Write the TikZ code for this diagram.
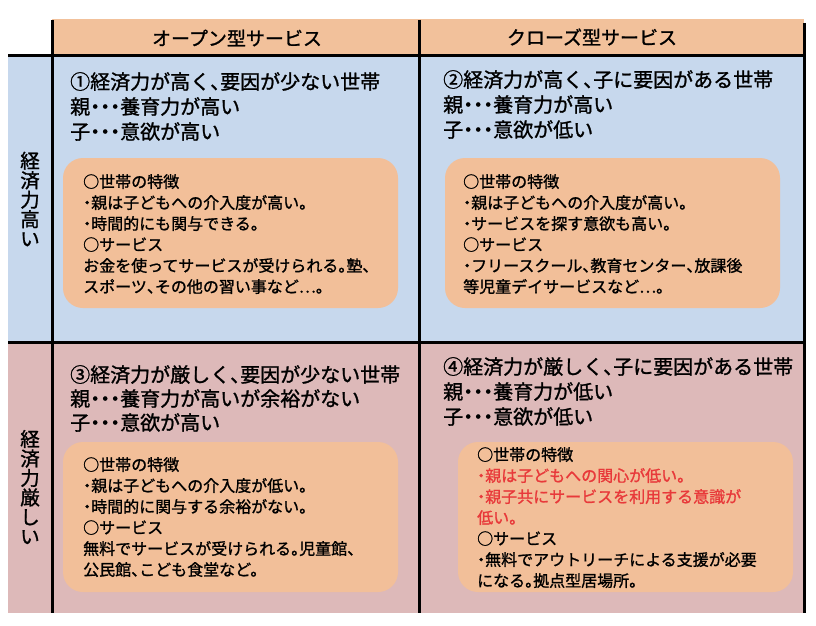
\documentclass[tikz,border=0pt]{standalone}
\usepackage{fontspec}
\setmainfont{Noto Sans CJK JP}[UprightFeatures={FakeBold=1.2}]
\definecolor{headorange}{HTML}{F2C19B}
\definecolor{highblue}{HTML}{C7D8ED}
\definecolor{lowpink}{HTML}{DDB9B9}
\definecolor{boxorange}{HTML}{F2BF99}
\definecolor{alertred}{HTML}{E8393A}
% narrow punctuation
\newcommand\nd{\makebox[0.5em]{・}}
\newcommand\nc{\makebox[0.5em][l]{、}}
\newcommand\np{\makebox[0.5em][l]{。}}
\begin{document}
\begin{tikzpicture}[x=1pt,y=-1pt,
		cellline/.style={line width=3pt},
		infobox/.style={fill=boxorange, rounded corners=20pt},
		headtext/.style={inner sep=0pt, font=\fontsize{19}{20}\selectfont},
		sidetext/.style={inner sep=0pt, align=center, font=\fontsize{19.5}{19.5}\selectfont},
		titletext/.style={anchor=north west, align=left, inner sep=0pt, font=\fontsize{20}{25}\selectfont},
		infotext/.style={anchor=north west, align=left, inner sep=0pt, font=\fontsize{16}{21}\selectfont}]
		% Set the grid lines of the table
		\def\xl{8}
		\def\xa{52}
		\def\xm{419}
		\def\xr{804}
		\def\yt{20}
		\def\yh{56}
		\def\ym{342}
		\def\yb{613}
		
		\useasboundingbox (0,0) rectangle (816,626);
		
		% Cell backgrounds
		\fill[headorange] (\xa,19) rectangle (\xr,\yh);
		\fill[highblue] (\xl,\yh) rectangle (\xr,\ym);
		\fill[lowpink] (\xl,\ym) rectangle (\xr,\yb);
		
		% Black grid lines
		\draw[cellline] (\xl,\yh) -- (\xr+1.5,\yh);
		\draw[cellline] (\xl,\ym) -- (\xr+1.5,\ym);
		\draw[cellline] (\xa,\yt) -- (\xa,\yb);
		\draw[cellline] (\xm,\yt) -- (\xm,\yb);
		\draw[cellline] (\xr,23) -- (\xr,\yb);
		
		% Column and row headings
		\node[headtext] (openhead) at (237,38) {オープン型サービス};
		\node[headtext] (closehead) at (592,37) {クローズ型サービス};
		\node[sidetext] (richside) at (30,199) {経\\済\\力\\高\\い};
		\node[sidetext] (poorside) at (30,487) {経\\済\\力\\厳\\し\\い};
		
		% Rounded boxes
		\fill[infobox] (63,158) rectangle (398,308);
		\fill[infobox] (445,158) rectangle (780,308);
		\fill[infobox] (63,442) rectangle (398,592);
		\fill[infobox] (458,442) rectangle (793,592);
		
		% Cell titles
		\node[titletext] (opentitle) at (70,72) {①経済力が高く\nc 要因が少ない世帯\\親\nd\nd\nd 養育力が高い\\子\nd\nd\nd 意欲が高い};
		\node[titletext] (closetitle) at (443,70) {②経済力が高く\nc 子に要因がある世帯\\親\nd\nd\nd 養育力が高い\\子\nd\nd\nd 意欲が低い};
		\node[titletext, font=\fontsize{20}{24}\selectfont] (openpoortitle) at (70,365) {③経済力が厳しく\nc 要因が少ない世帯\\親\nd\nd\nd 養育力が高いが余裕がない\\子\nd\nd\nd 意欲が高い};
		\node[titletext] (closepoortitle) at (443,357) {④経済力が厳しく\nc 子に要因がある世帯\\親\nd\nd\nd 養育力が低い\\子\nd\nd\nd 意欲が低い};
		
		% Box texts
		\node[infotext] (openinfo) at (83,174) {○世帯の特徴\\\nd 親は子どもへの介入度が高い。\\\nd 時間的にも関与できる。\\○サービス\\お金を使ってサービスが受けられる\np 塾、\\スポーツ\nc その他の習い事など…。};
		\node[infotext] (closeinfo) at (463,174) {○世帯の特徴\\\nd 親は子どもへの介入度が高い。\\\nd サービスを探す意欲も高い。\\○サービス\\\nd フリースクール\nc 教育センター\nc 放課後\\等児童デイサービスなど…。};
		\node[infotext] (openpoorinfo) at (83,457) {○世帯の特徴\\\nd 親は子どもへの介入度が低い。\\\nd 時間的に関与する余裕がない。\\○サービス\\無料でサービスが受けられる\np 児童館、\\公民館\nc こども食堂など。};
		\node[infotext] (closepoorinfo) at (477,447) {○世帯の特徴\\\textcolor{alertred}{\nd 親は子どもへの関心が低い。}\\\textcolor{alertred}{\nd 親子共にサービスを利用する意識が}\\\textcolor{alertred}{低い。}\\○サービス\\\nd 無料でアウトリーチによる支援が必要\\になる\np 拠点型居場所。};
	\end{tikzpicture}
\end{document}
